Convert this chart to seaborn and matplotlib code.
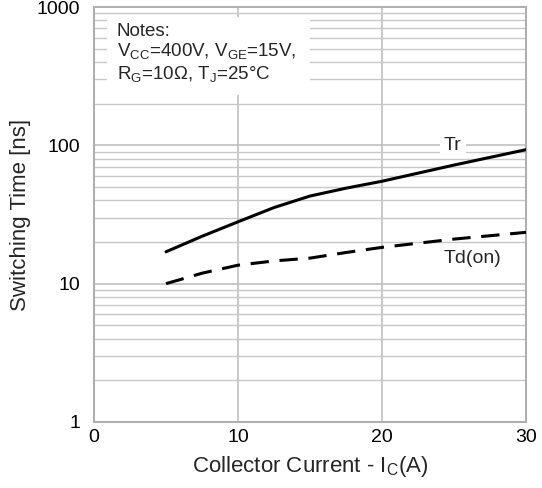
import matplotlib
matplotlib.use("Agg")
import matplotlib.pyplot as plt
import seaborn as sns
import pandas as pd
import numpy as np
from matplotlib.ticker import LogLocator, NullFormatter
from matplotlib.patches import Rectangle

ic_tr = [5, 7.5, 10, 12.5, 15, 17.5, 20, 25, 30]
tr_vals = [17, 22, 28, 35.5, 43, 49, 55, 72, 93]
ic_td = [5, 7.5, 10, 12.5, 15, 17.5, 20, 25, 30]
td_vals = [10, 11.9, 13.6, 14.6, 15.3, 16.8, 18.3, 21, 23.5]
x_ticks = [0, 10, 20, 30]
y_ticks = [1, 10, 100, 1000]
y_ticklabels = ["1", "10", "100", "1000"]

sns.set_theme(style="white")
plt.rcParams['font.family'] = ['Liberation Sans', 'DejaVu Sans']

fig = plt.figure(figsize=(5.42, 4.88), dpi=100)
ax = fig.add_axes([94/542, 1-422/488, (526-94)/542, (422-7)/488])

df_tr = pd.DataFrame({"x": ic_tr, "y": tr_vals})
df_td = pd.DataFrame({"x": ic_td, "y": td_vals})
sns.lineplot(data=df_tr, x="x", y="y", ax=ax, color="black", lw=2.2, zorder=3)
sns.lineplot(data=df_td, x="x", y="y", ax=ax, color="black", lw=2.2, zorder=3,
             linestyle=(0, (6, 3.5)))

ax.set_yscale("log")
ax.set_xlim(0, 30)
ax.set_ylim(1, 1000)
ax.set_xticks(x_ticks)
ax.set_yticks(y_ticks)
ax.set_yticklabels(y_ticklabels)
ax.yaxis.set_minor_locator(LogLocator(base=10, subs=np.arange(2, 10)))
ax.yaxis.set_minor_formatter(NullFormatter())
ax.grid(True, which="major", color="#c0c0c0", lw=1.2)
ax.grid(True, which="minor", axis="y", color="#c8c8c8", lw=1.0)
ax.set_axisbelow(True)
for s in ax.spines.values():
    s.set_color("#b0b0b0")
    s.set_linewidth(1.5)
ax.tick_params(axis="both", which="both", length=0, labelsize=14, colors="black")
ax.tick_params(axis="x", pad=5)
ax.tick_params(axis="y", pad=10)
ax.set_xlabel("Collector Current - I$_\\mathregular{C}$(A)", fontsize=16, labelpad=6)
ax.set_ylabel("Switching Time [ns]", fontsize=16, labelpad=4)

ax.text(24.9, 100, "Tr", fontsize=14, ha="center", va="center", zorder=4,
        bbox=dict(facecolor="white", edgecolor="none", pad=3))
ax.text(26.3, 15.3, "Td(on)", fontsize=14, ha="center", va="center", zorder=4,
        bbox=dict(facecolor="white", edgecolor="none", pad=2))

ax.add_patch(Rectangle((0.030, 0.788), 0.47, 0.188, transform=ax.transAxes,
                       facecolor="white", edgecolor="none", zorder=2.5))
notes = ("Notes:\n"
         "V$_\\mathregular{CC}$=400V, V$_\\mathregular{GE}$=15V,\n"
         "R$_\\mathregular{G}$=10\u03a9, T$_\\mathregular{J}$=25\u00b0C")
ax.text(0.053, 0.962, notes, transform=ax.transAxes, fontsize=13.5, va="top", ha="left",
        linespacing=1.15, zorder=4)

fig.savefig("out.png", dpi=100)
